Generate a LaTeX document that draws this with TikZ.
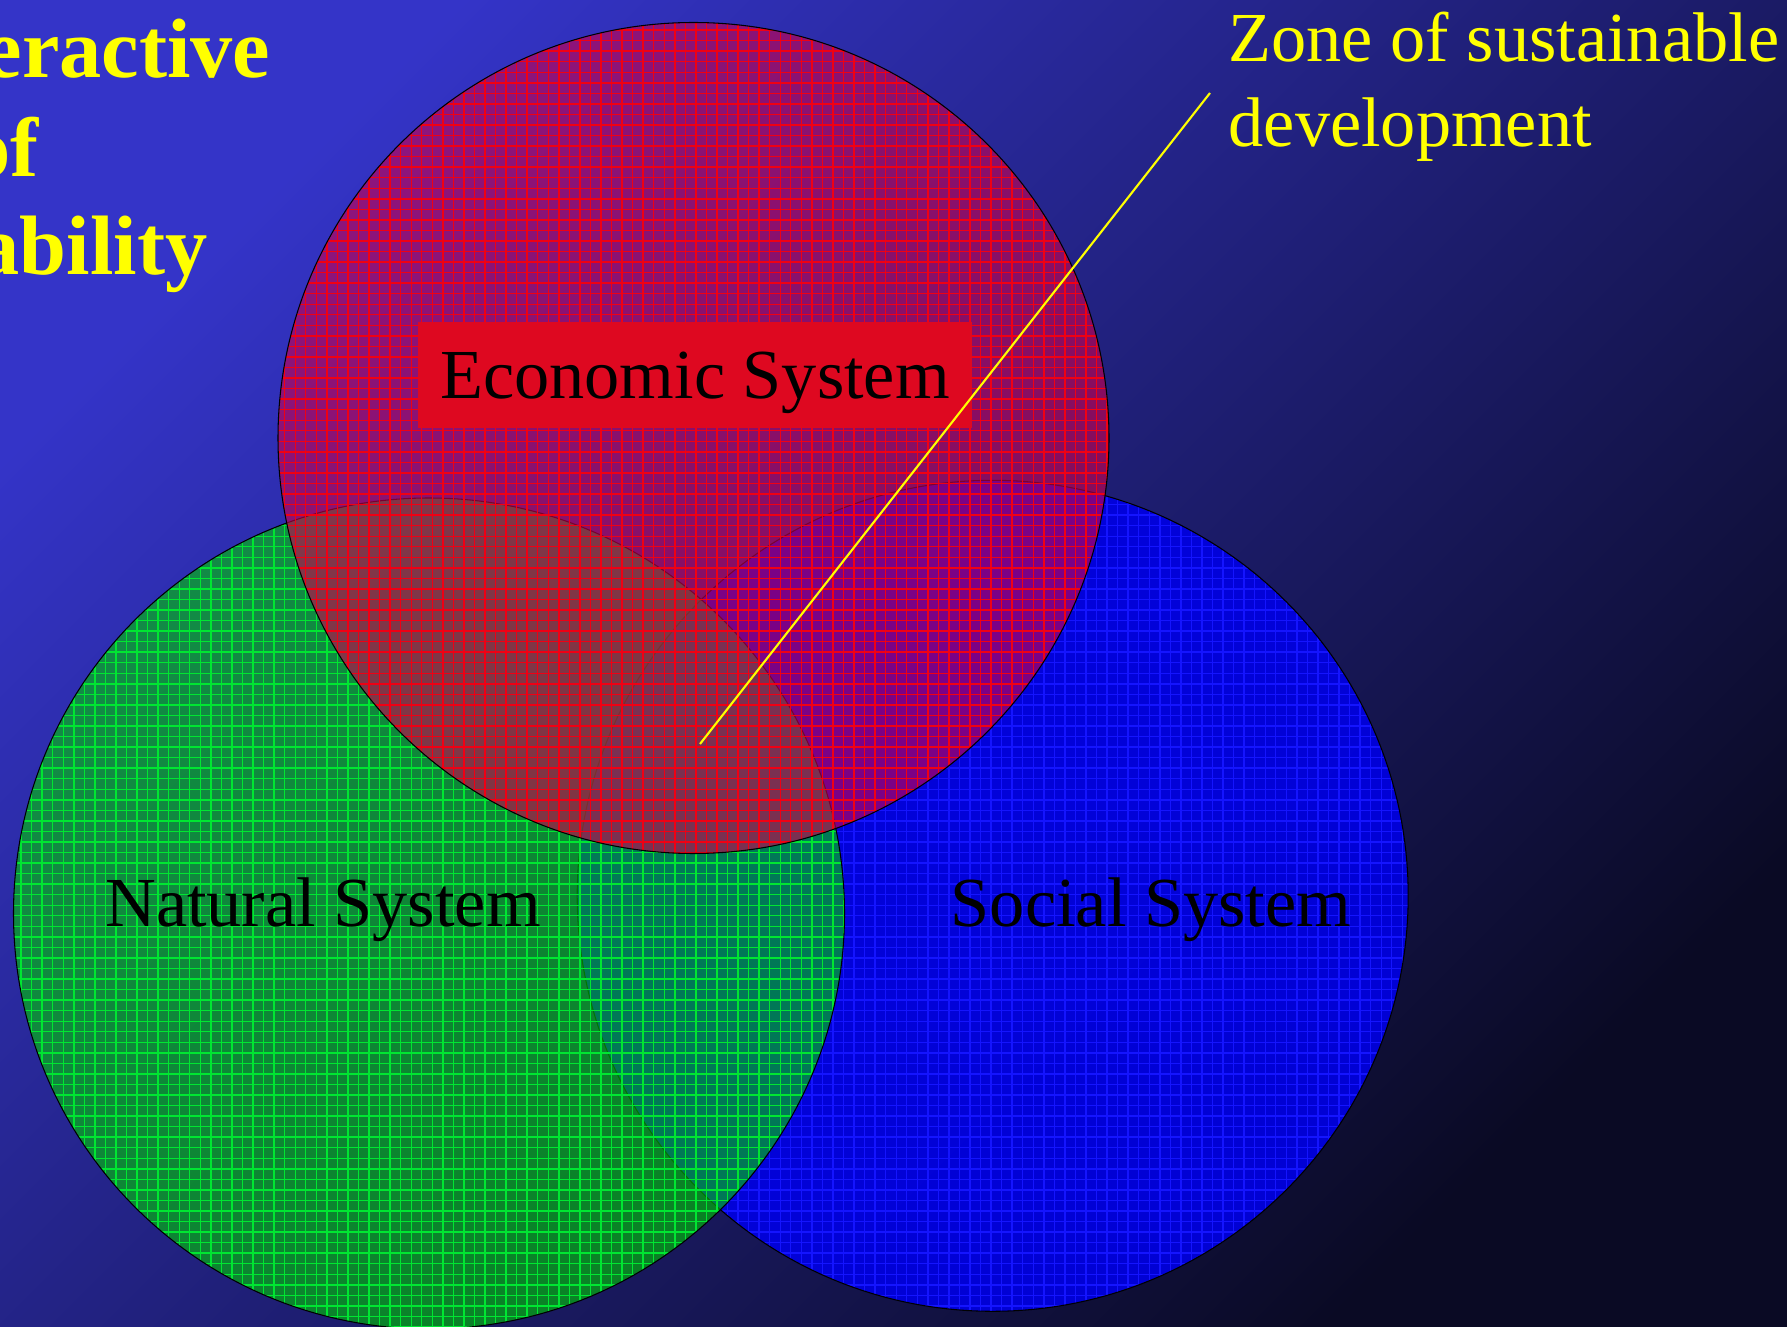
\documentclass[tikz,border=0pt]{standalone}
\usepackage{fontspec}
\setmainfont{Liberation Serif}
\usepackage{tikz}
\usetikzlibrary{patterns}
\usepackage{xcolor}

\definecolor{bgtop}{RGB}{52,52,200}
\definecolor{bgmid}{RGB}{36,36,146}
\definecolor{bgbot}{RGB}{10,10,36}
\definecolor{socfill}{RGB}{0,0,230}
\definecolor{socgrid}{RGB}{20,20,255}
\definecolor{natfill}{RGB}{0,200,0}
\definecolor{natgrid}{RGB}{0,230,50}
\definecolor{ecofill}{RGB}{204,0,78}
\definecolor{ecogrid}{RGB}{240,0,20}
\definecolor{boxred}{RGB}{222,8,32}
\definecolor{zoneyellow}{RGB}{255,255,0}

\tikzset{
  sphere/.style={circle, draw=black, line width=0.3pt, minimum size=83.1mm, inner sep=0pt, pattern=grid},
  systext/.style={inner sep=0pt, text=black, font=\fontsize{20}{24}\selectfont},
  headtext/.style={inner sep=0pt, anchor=base west, text=zoneyellow, font=\fontsize{24}{28}\bfseries\selectfont},
}

\begin{document}
\begin{tikzpicture}[x=0.1mm, y=-0.1mm]

\shade[top color=bgtop, middle color=bgmid, bottom color=bgbot, shading angle=45] (0,0) rectangle (1787,1327);
\useasboundingbox (0,0) rectangle (1787,1327);

% the three systems
\node[sphere, preaction={fill=socfill, fill opacity=0.9}, pattern color=socgrid] (soc) at (992.7,895.8) {};
\node[sphere, preaction={fill=natfill, fill opacity=0.6}, pattern color=natgrid] (nat) at (429,913.5) {};
\node[sphere, preaction={fill=ecofill, fill opacity=0.6}, pattern color=ecogrid] (eco) at (693.5,438) {};

\node[systext, fill=boxred, text depth=0pt, minimum width=55.4mm, minimum height=10.6mm] (ecolab) at (695,375.5) {Economic System};
\node[systext] (natlab) at (323,910) {Natural System};
\node[systext] (soclab) at (1151,910) {Social System};

% title, cut at the left edge
\node[headtext] (head1) at (-16,78) {eractive};
\node[headtext] (head2) at (-32,177) {of};
\node[headtext] (head3) at (-23,275) {ability};

% zone of sustainable development
\node[inner sep=0pt, anchor=north west, align=left, text=zoneyellow, font=\fontsize{20}{24.2}\selectfont] (zone) at (1228,11) {Zone of sustainable\\development};
\coordinate (zonept) at (700,744);
\coordinate (zonetip) at (1210,93);
\draw[zoneyellow, line width=0.6pt] (zonept) -- (zonetip);

\end{tikzpicture}
\end{document}
